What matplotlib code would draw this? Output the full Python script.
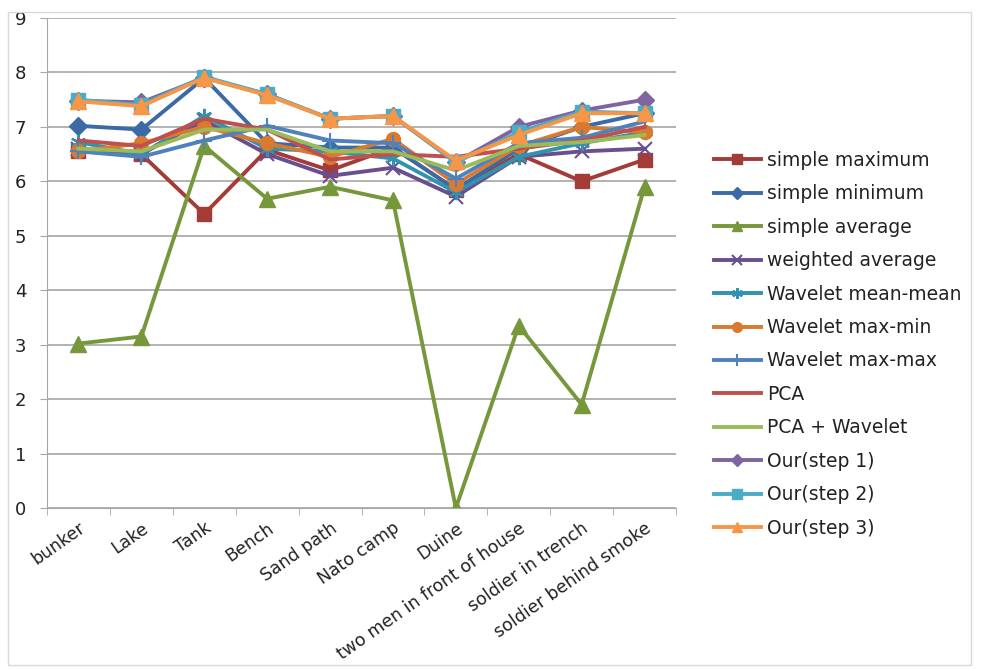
import matplotlib
matplotlib.use("Agg")
import matplotlib.pyplot as plt
from matplotlib.patches import Rectangle

plt.rcParams['font.family'] = ['DejaVu Sans']

scenes = ['bunker', 'Lake', 'Tank', 'Bench', 'Sand path', 'Nato camp', 'Duine',
          'two men in front of house', 'soldier in trench', 'soldier behind smoke']

simple_max = [6.55, 6.5, 5.4, 6.58, 6.2, 6.62, 5.85, 6.5, 6.0, 6.4]
simple_min = [7.02, 6.95, 7.9, 6.7, 6.62, 6.62, 5.85, 6.6, 7.0, 7.25]
simple_avg = [3.02, 3.15, 6.65, 5.68, 5.9, 5.65, 0.0, 3.35, 1.9, 5.9]
weighted_avg = [6.6, 6.5, 7.12, 6.5, 6.1, 6.25, 5.72, 6.45, 6.55, 6.6]
wav_mean_mean = [6.72, 6.5, 7.2, 6.6, 6.55, 6.42, 5.8, 6.45, 6.7, 6.9]
wav_max_min = [6.55, 6.7, 7.0, 6.7, 6.45, 6.78, 5.95, 6.65, 7.0, 6.9]
wav_max_max = [6.55, 6.45, 6.75, 7.02, 6.75, 6.7, 6.05, 6.7, 6.8, 7.1]
pca = [6.75, 6.65, 7.15, 6.95, 6.4, 6.5, 6.45, 6.6, 6.75, 7.0]
pca_wav = [6.6, 6.55, 6.95, 6.95, 6.55, 6.55, 6.2, 6.65, 6.72, 6.85]
our_1 = [7.48, 7.45, 7.9, 7.6, 7.15, 7.2, 6.35, 7.0, 7.3, 7.5]
our_2 = [7.5, 7.4, 7.92, 7.6, 7.15, 7.2, 6.35, 6.9, 7.28, 7.25]
our_3 = [7.47, 7.38, 7.9, 7.58, 7.15, 7.2, 6.38, 6.85, 7.25, 7.25]

series = [
    ('simple maximum', simple_max, '#A33C37', 's', 10),
    ('simple minimum', simple_min, '#3C6AA6', 'D', 9),
    ('simple average', simple_avg, '#76983B', '^', 11),
    ('weighted average', weighted_avg, '#6A4F8F', 'x', 10),
    ('Wavelet mean-mean', wav_mean_mean, '#3193AE', (6, 2, 0), 11),
    ('Wavelet max-min', wav_max_min, '#D87A30', 'o', 10),
    ('Wavelet max-max', wav_max_max, '#4F81BD', '+', 12),
    ('PCA', pca, '#C0504D', None, 0),
    ('PCA + Wavelet', pca_wav, '#9BBB59', None, 0),
    ('Our(step 1)', our_1, '#8064A2', 'D', 9),
    ('Our(step 2)', our_2, '#4BACC6', 's', 10),
    ('Our(step 3)', our_3, '#F79646', '^', 11),
]

fig = plt.figure(figsize=(9.81, 6.70), dpi=100)
fig.patches.append(Rectangle((8 / 981, 5 / 670), 963 / 981, 653 / 670,
                             transform=fig.transFigure, fill=False,
                             edgecolor='#D9D9D9', linewidth=1))
ax = fig.add_axes([47 / 981, 162 / 670, 629 / 981, 490 / 670])

x = list(range(len(scenes)))
for name, vals, col, mk, ms in series:
    ax.plot(x, vals, color=col, linewidth=2.8, marker=mk, markersize=ms,
            markeredgewidth=1.5 if mk in ('x', '+', (6, 2, 0)) else 1,
            markeredgecolor=col, label=name)

ax.set_xlim(-0.5, 9.5)
ax.set_ylim(0, 9)
ax.set_yticks(range(10))
ax.yaxis.grid(True, color='#ADADAD', linewidth=1.3)
ax.set_axisbelow(True)
for s in ('top', 'right'):
    ax.spines[s].set_visible(False)
ax.spines['left'].set_color('#A6A6A6')
ax.spines['bottom'].set_color('#A6A6A6')
ax.tick_params(axis='y', colors='#A6A6A6', labelcolor='#222222', labelsize=13,
               length=5, pad=10)

# category labels at the centres, tick marks on the category boundaries
ax.set_xticks(x)
ax.set_xticklabels(scenes, rotation=35, ha='right', rotation_mode='anchor',
                   fontsize=12.5, color='#222222')
ax.tick_params(axis='x', which='major', length=0, pad=8)
ax.set_xticks([i - 0.5 for i in range(len(scenes) + 1)], minor=True)
ax.tick_params(axis='x', which='minor', length=5, color='#A6A6A6')

leg = ax.legend(loc='upper left', bbox_to_anchor=(697 / 981, 1 - 134 / 670),
                bbox_transform=fig.transFigure, frameon=False, fontsize=13.5,
                handlelength=2.5, handletextpad=0.35, labelspacing=0.77,
                markerscale=0.7)
for t in leg.get_texts():
    t.set_color('#222222')

fig.savefig('out.png', dpi=100)
